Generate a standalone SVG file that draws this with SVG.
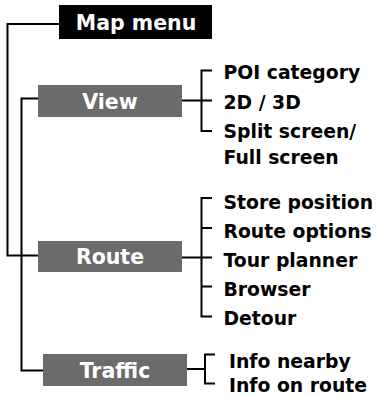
<svg xmlns="http://www.w3.org/2000/svg" width="376" height="397" viewBox="0 0 376 397">
<style>
.box{fill:#6b6b6b}
.root{fill:#000}
.lbl{font-family:"DejaVu Sans",sans-serif;font-weight:bold;font-size:20.5px;fill:#fff;text-anchor:middle}
.item{font-family:"DejaVu Sans",sans-serif;font-weight:bold;font-size:18.8px;fill:#000}
.ln{fill:none;stroke:#000;stroke-width:2}
</style>
<rect width="376" height="397" fill="#fff"/>
<g id="connectors" class="ln">
<path class="ln" d="M59,24 H7.5 V255.5 H38"/>
<path class="ln" d="M38,98.5 H21.5 V370.5 H43"/>
<path class="ln" d="M182,100.5 H212 M212,70.5 H201.5 V131 H212"/>
<path class="ln" d="M182,257.5 H212 M212,198 H201.5 V316.5 H212 M201.5,228 H212 M201.5,286.5 H212"/>
<path class="ln" d="M187,369 H205 M215,354.5 H205 V383.5 H215"/>
</g>
<g id="map-menu">
<rect class="root" x="59" y="5" width="153" height="34"/>
<text class="lbl" x="136" y="30">Map menu</text>
</g>
<g id="view">
<rect class="box" x="38" y="85" width="144" height="32"/>
<text class="lbl" x="110" y="108.5">View</text>
</g>
<g id="route">
<rect class="box" x="38" y="241" width="144" height="31"/>
<text class="lbl" x="110" y="264">Route</text>
</g>
<g id="traffic">
<rect class="box" x="43" y="354" width="144" height="32"/>
<text class="lbl" x="115" y="377.5">Traffic</text>
</g>
<g id="view-items">
<text class="item" x="223.5" y="79">POI category</text>
<text class="item" x="223.5" y="108.5">2D / 3D</text>
<text class="item" x="223.5" y="137.5">Split screen/</text>
<text class="item" x="223.5" y="164">Full screen</text>
</g>
<g id="route-items">
<text class="item" x="223.5" y="208.7">Store position</text>
<text class="item" x="223.5" y="238">Route options</text>
<text class="item" x="223.5" y="267">Tour planner</text>
<text class="item" x="223.5" y="296">Browser</text>
<text class="item" x="223.5" y="324.5">Detour</text>
</g>
<g id="traffic-items">
<text class="item" x="229" y="367.5">Info nearby</text>
<text class="item" x="229" y="392">Info on route</text>
</g>
</svg>
